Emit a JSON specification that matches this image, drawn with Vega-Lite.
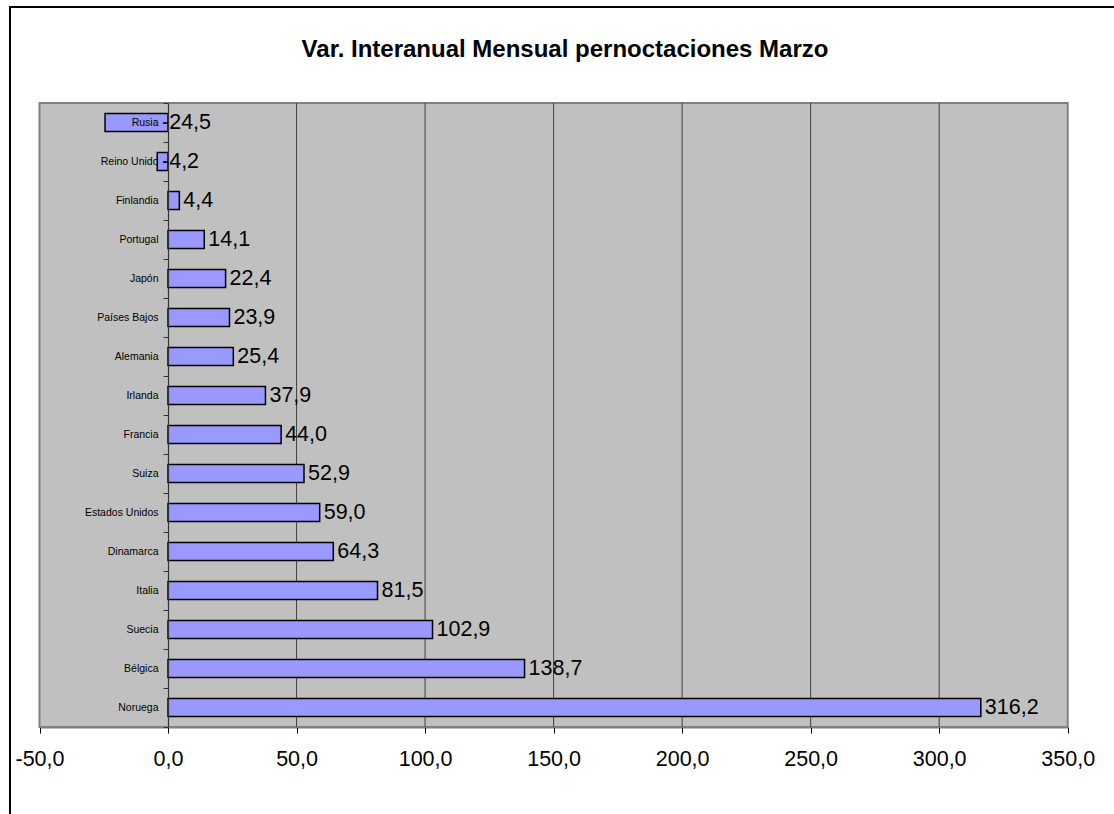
{
  "$schema": "https://vega.github.io/schema/vega-lite/v6.json",
  "width": 1110,
  "height": 815,
  "autosize": {"type": "none"},
  "padding": {"left": 10, "top": 7, "right": 0, "bottom": 0},
  "background": "white",
  "title": {
    "text": "Var. Interanual Mensual pernoctaciones Marzo",
    "fontSize": 24,
    "font": "Liberation Sans",
    "fontWeight": "bold",
    "color": "black",
    "anchor": "middle",
    "frame": "group",
    "offset": -60,
    "baseline": "top"
  },
  "config": {
    "view": {"stroke": "black", "strokeWidth": 2, "fill": "white"},
    "font": "Liberation Sans",
    "locale": {
      "number": {"decimal": ",", "thousands": ".", "grouping": [3], "currency": ["", " €"], "minus": "-"}
    },
    "axisX": {
      "domainColor": "black",
      "domainWidth": 1.5,
      "tickColor": "black",
      "tickSize": 6,
      "labelFontSize": 21.5,
      "labelFont": "Liberation Sans",
      "labelColor": "black",
      "labelPadding": 15,
      "grid": false,
      "labelFlush": false,
      "labelOverlap": false,
      "zindex": 2
    }
  },
  "resolve": {"scale": {"y": "independent"}},
  "datasets": {
    "marco": [{"k": 1}],
    "rejilla": [{"g": 50}, {"g": 100}, {"g": 150}, {"g": 200}, {"g": 250}, {"g": 300}],
    "paises": [
      {"pais": "Rusia", "valor": -24.5},
      {"pais": "Reino Unido", "valor": -4.2},
      {"pais": "Finlandia", "valor": 4.4},
      {"pais": "Portugal", "valor": 14.1},
      {"pais": "Japón", "valor": 22.4},
      {"pais": "Países Bajos", "valor": 23.9},
      {"pais": "Alemania", "valor": 25.4},
      {"pais": "Irlanda", "valor": 37.9},
      {"pais": "Francia", "valor": 44.0},
      {"pais": "Suiza", "valor": 52.9},
      {"pais": "Estados Unidos", "valor": 59.0},
      {"pais": "Dinamarca", "valor": 64.3},
      {"pais": "Italia", "valor": 81.5},
      {"pais": "Suecia", "valor": 102.9},
      {"pais": "Bélgica", "valor": 138.7},
      {"pais": "Noruega", "valor": 316.2}
    ]
  },
  "layer": [
    {
      "data": {"name": "marco"},
      "mark": {"type": "rect", "fill": "#C0C0C0", "stroke": "#808080", "strokeWidth": 2},
      "encoding": {
        "x": {"datum": -50, "type": "quantitative", "title": null,
              "scale": {"domain": [-50, 350], "range": [29.5, 1057.7], "nice": false}},
        "x2": {"datum": 350},
        "y": {"datum": 0, "type": "quantitative", "axis": null,
              "scale": {"domain": [0, 1], "range": [96, 720], "nice": false, "zero": false}},
        "y2": {"datum": 1}
      }
    },
    {
      "data": {"name": "rejilla"},
      "mark": {"type": "rule", "color": "#404040", "strokeWidth": 1},
      "encoding": {
        "x": {"field": "g", "type": "quantitative", "title": null},
        "y": {"datum": 0, "type": "quantitative", "axis": null,
              "scale": {"domain": [0, 1], "range": [96, 720], "nice": false, "zero": false}},
        "y2": {"datum": 1}
      }
    },
    {
      "data": {"name": "paises"},
      "mark": {"type": "bar", "fill": "#9999FF", "stroke": "black", "strokeWidth": 1.5, "height": {"band": 0.46}},
      "encoding": {
        "y": {
          "field": "pais", "type": "nominal", "sort": null,
          "scale": {
            "domain": ["Rusia", "Reino Unido", "Finlandia", "Portugal", "Japón", "Países Bajos", "Alemania", "Irlanda", "Francia", "Suiza", "Estados Unidos", "Dinamarca", "Italia", "Suecia", "Bélgica", "Noruega"],
            "range": [96, 720], "paddingInner": 0, "paddingOuter": 0
          },
          "axis": {
            "title": null, "offset": -158, "domainColor": "#333333", "domainWidth": 1.2,
            "tickColor": "#333333", "tickSize": 5, "tickBand": "extent",
            "labelFontSize": 10.5, "labelFont": "Liberation Sans", "labelColor": "black",
            "labelPadding": 5, "labelLimit": 300, "grid": false, "zindex": 2
          }
        },
        "x": {
          "field": "valor", "type": "quantitative",
          "axis": {"title": null, "values": [-50, 0, 50, 100, 150, 200, 250, 300, 350], "format": ".1f", "offset": -95}
        }
      }
    },
    {
      "data": {"name": "paises"},
      "transform": [{"filter": "datum.valor >= 0"}],
      "mark": {"type": "text", "align": "left", "baseline": "middle", "dx": 4, "fontSize": 21.5, "font": "Liberation Sans", "color": "black"},
      "encoding": {
        "y": {
          "field": "pais", "type": "nominal", "sort": null, "axis": null,
          "scale": {
            "domain": ["Rusia", "Reino Unido", "Finlandia", "Portugal", "Japón", "Países Bajos", "Alemania", "Irlanda", "Francia", "Suiza", "Estados Unidos", "Dinamarca", "Italia", "Suecia", "Bélgica", "Noruega"],
            "range": [96, 720], "paddingInner": 0, "paddingOuter": 0
          }
        },
        "x": {"field": "valor", "type": "quantitative", "title": null},
        "text": {"field": "valor", "type": "quantitative", "format": ".1f"}
      }
    },
    {
      "data": {"name": "paises"},
      "transform": [{"filter": "datum.valor < 0"}],
      "mark": {"type": "text", "align": "left", "baseline": "middle", "dx": -6, "fontSize": 21.5, "font": "Liberation Sans", "color": "black"},
      "encoding": {
        "y": {
          "field": "pais", "type": "nominal", "sort": null, "axis": null,
          "scale": {
            "domain": ["Rusia", "Reino Unido", "Finlandia", "Portugal", "Japón", "Países Bajos", "Alemania", "Irlanda", "Francia", "Suiza", "Estados Unidos", "Dinamarca", "Italia", "Suecia", "Bélgica", "Noruega"],
            "range": [96, 720], "paddingInner": 0, "paddingOuter": 0
          }
        },
        "x": {"datum": 0, "type": "quantitative", "title": null},
        "text": {"field": "valor", "type": "quantitative", "format": ".1f"}
      }
    }
  ]
}
